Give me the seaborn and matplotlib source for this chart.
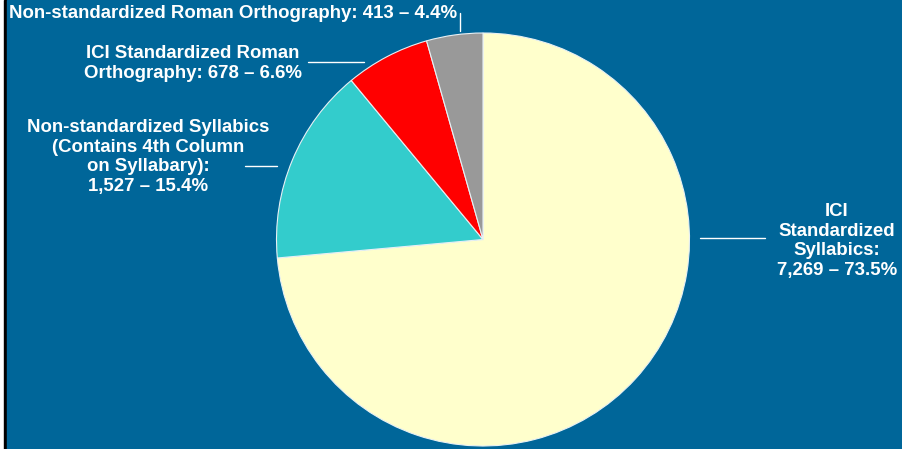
import matplotlib
matplotlib.use('Agg')
import seaborn as sns
from matplotlib import pyplot as plt

# data
categories = [
    'ICI Standardized Syllabics',
    'Non-standardized Syllabics (Contains 4th Column on Syllabary)',
    'ICI Standardized Roman Orthography',
    'Non-standardized Roman Orthography',
]
counts = [7269, 1527, 678, 413]
percents = [73.5, 15.4, 6.6, 4.4]
colors = ['#FFFFCC', '#33CCCC', '#FF0000', '#999999']

BG = '#006699'
W, H = 903, 449

sns.set_style('white')
plt.rcParams['font.family'] = ['Liberation Sans', 'DejaVu Sans']

fig = plt.figure(figsize=(W / 100, H / 100), dpi=100)
ax = fig.add_axes([0, 0, 1, 1])


def py(y):
    # pixel row (from top) -> data y
    return H - y


ax.pie(
    percents,
    colors=colors,
    startangle=90,
    counterclock=False,
    center=(483, py(239.5)),
    radius=206.5,
    wedgeprops=dict(edgecolor='#E8F0F4', linewidth=0.8),
    frame=True,
)
ax.set_xlim(0, W)
ax.set_ylim(0, H)
ax.set_aspect('equal')
ax.axis('off')

# background: white strip, black rule, blue panel
ax.axvspan(0, 4, color='white', zorder=-3)
ax.axvspan(4, 7, color='black', zorder=-3)
ax.axvspan(7, W, color=BG, zorder=-3)

txt = dict(color='white', fontsize=13.4, fontweight='bold', linespacing=1.2)

labels = [
    ('ICI\nStandardized\nSyllabics:\n{:,} – {}%'.format(counts[0], percents[0]), 837, 241, 'center'),
    ('Non-standardized Syllabics\n(Contains 4th Column\non Syllabary):\n{:,} – {}%'.format(counts[1], percents[1]), 148, 157, 'center'),
    ('ICI Standardized Roman\nOrthography: {} – {}%'.format(counts[2], percents[2]), 193, 63.5, 'center'),
    ('Non-standardized Roman Orthography: {} – {}%'.format(counts[3], percents[3]), 9, 14, 'left'),
]
for text, x, y, ha in labels:
    ax.text(x, py(y), text, ha=ha, va='center', multialignment='center', **txt)

# leader lines
leaders = [
    ([700, 765], [238, 238]),
    ([245, 277], [166, 166]),
    ([308, 364], [62, 62]),
    ([460, 460], [13, 31]),
]
for xs, ys in leaders:
    ax.plot(xs, [py(v) for v in ys], color='white', lw=1)

fig.savefig('out.png', dpi=100)
